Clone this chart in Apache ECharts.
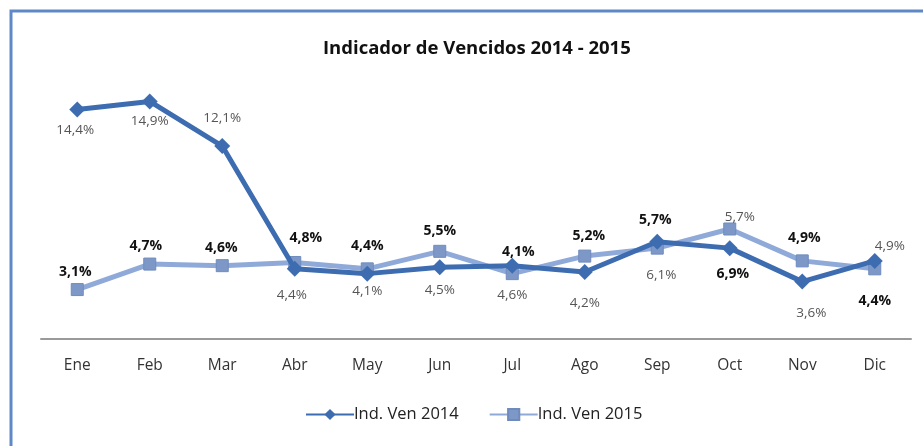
<!DOCTYPE html>
<html>
<head>
<meta charset="utf-8">
<script src="https://cdn.jsdelivr.net/npm/echarts@6/dist/echarts.min.js"></script>
<style>html,body{margin:0;padding:0;background:#fff;}#c{width:923px;height:446px;}</style>
</head>
<body>
<div id="c"></div>
<script>
const months = ['Ene','Feb','Mar','Abr','May','Jun','Jul','Ago','Sep','Oct','Nov','Dic'];
const ven2014 = [14.4,14.9,12.1,4.4,4.1,4.5,4.6,4.2,6.1,5.7,3.6,4.9];
const ven2015 = [3.1,4.7,4.6,4.8,4.4,5.5,4.1,5.2,5.7,6.9,4.9,4.4];
const seriesNames = ['Ind. Ven 2014','Ind. Ven 2015'];
const titleText = 'Indicador de Vencidos 2014 - 2015';

// label offsets (style only), relative to the point
const off2014 = [[-2,21],[0,20],[0,-28],[-3,26],[0,18],[0,23],[0,29],[0,31],[4,33],[10,-31],[9,32],[15,-15]];
const off2015 = [[-2,-18],[-4,-18],[-1,-18],[11,-24],[0,-23],[0,-20],[6,-22],[4,-20],[-2,-28],[3,45],[2,-23],[0,32]];

const fmt = v => v.toFixed(1).replace('.', ',') + '%';
const FONT = '"Open Sans", Lato, sans-serif';

const d2014 = ven2014.map((v,i)=>({value:v,label:{offset:off2014[i]}}));
const d2015 = ven2015.map((v,i)=>({value:v,label:{offset:off2015[i]}}));

const chart = echarts.init(document.getElementById('c'));
chart.setOption({
  animation:false,
  backgroundColor:'#fff',
  graphic:[{type:'rect',shape:{x:11,y:11,width:1000,height:600},style:{fill:'none',stroke:'#5F89C6',lineWidth:3}}],
  title:{text:titleText,left:318,top:34,textStyle:{fontFamily:FONT,fontSize:18.5,fontWeight:'bold',color:'#111'}},
  grid:{left:41,right:12,top:60,bottom:107},
  xAxis:{type:'category',data:months,boundaryGap:true,
    axisLine:{lineStyle:{color:'#9a9a9a',width:2}},axisTick:{show:false},
    axisLabel:{margin:19,fontFamily:FONT,fontSize:15.5,color:'#333'}},
  yAxis:{type:'value',min:0,max:17.5,show:false,splitLine:{show:false}},
  legend:{bottom:18,left:300,itemWidth:48,itemHeight:14,itemGap:30,
    textStyle:{fontFamily:FONT,fontSize:16.5,color:'#222',padding:[0,0,0,-5]},
    data:seriesNames},
  series:[
    {name:seriesNames[1],type:'line',data:d2015,symbol:'rect',symbolSize:12,z:2,
      lineStyle:{color:'#8FAAD8',width:5},
      itemStyle:{color:'#7D98C7',borderColor:'#6F8BBE',borderWidth:1},
      label:{show:true,position:'inside',formatter:p=>fmt(p.value),fontFamily:FONT,fontSize:14,fontWeight:'bold',color:'#111'}},
    {name:seriesNames[0],type:'line',data:d2014,symbol:'diamond',symbolSize:[16,16],z:3,
      lineStyle:{color:'#3D6DB0',width:5},
      itemStyle:{color:'#3D6DB0'},
      label:{show:true,position:'inside',formatter:p=>fmt(p.value),fontFamily:FONT,fontSize:13.5,color:'#555'}}
  ]
});
</script>
</body>
</html>
